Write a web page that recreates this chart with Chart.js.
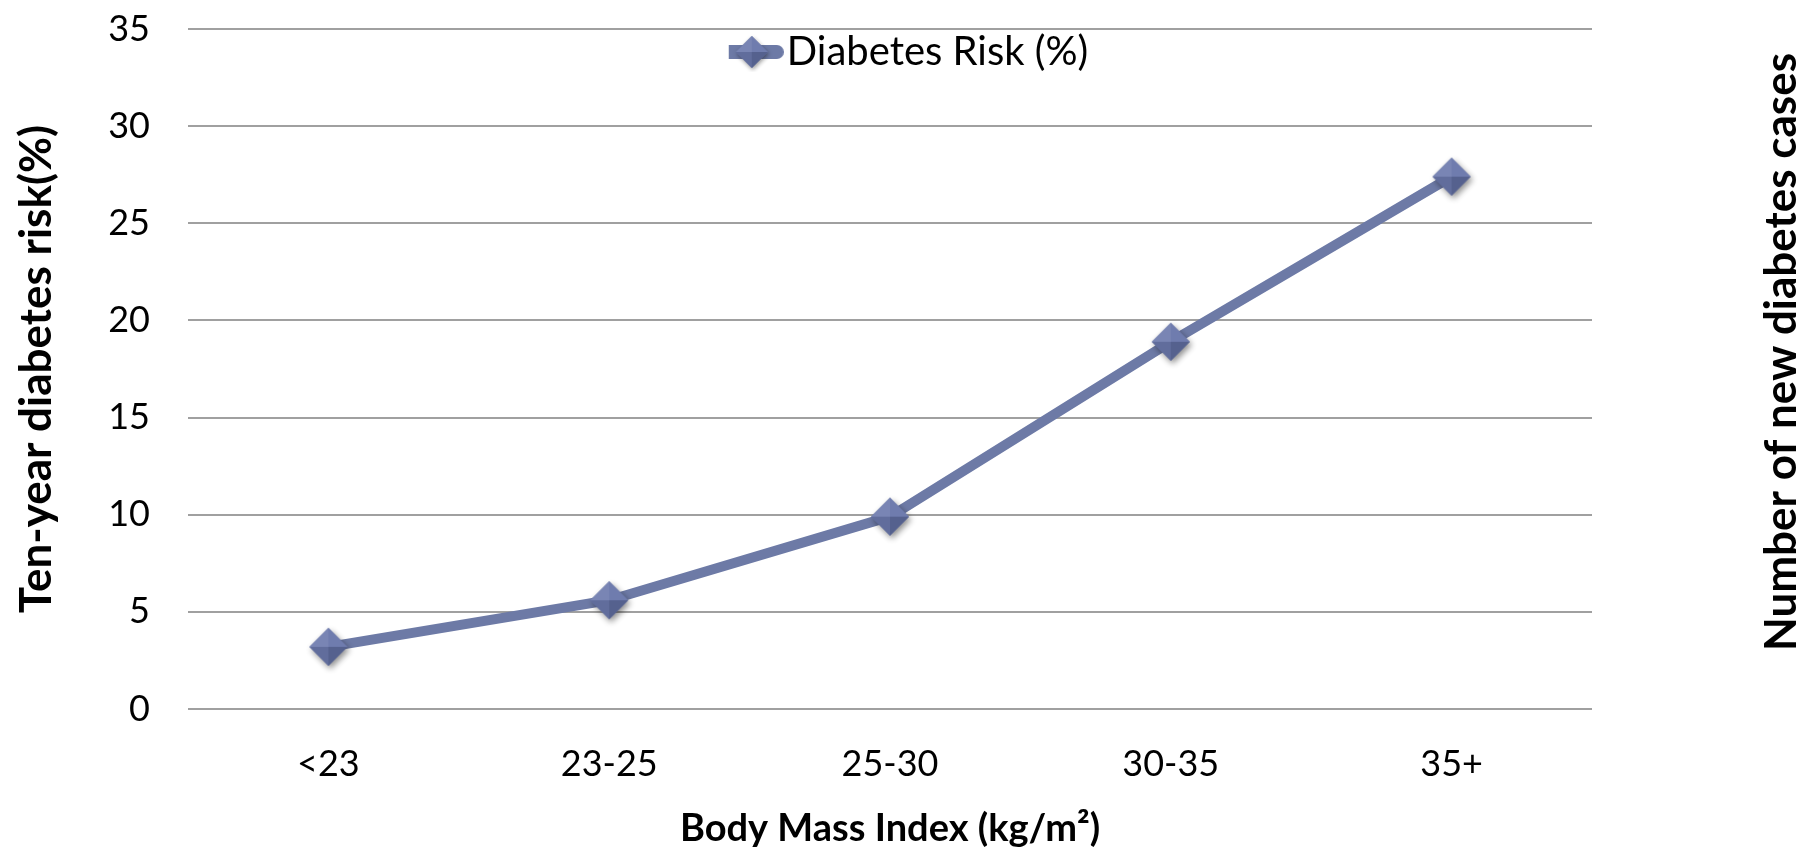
<!DOCTYPE html>
<html><head><meta charset="utf-8">
<script src="https://cdn.jsdelivr.net/npm/chart.js@4/dist/chart.umd.min.js"></script>
<style>html,body{margin:0;padding:0;background:#fff;}#wrap{width:1808px;height:852px;position:relative}</style>
</head><body><div id="wrap"><canvas id="c" width="1808" height="852"></canvas></div>
<script>
const categories = ['<23', '23-25', '25-30', '30-35', '35+'];
const riskValues = [3.2, 5.6, 9.9, 18.9, 27.4];
const yMin = 0, yMax = 35, yStep = 5;
const seriesLabel = 'Diabetes Risk (%)';
const xTitle = 'Body Mass Index (kg/m\u00B2)';
const yTitle = 'Ten-year diabetes risk(%)';
const y2Title = 'Number of new diabetes cases';

const FONT = 'Lato, "Open Sans", sans-serif';
const LINE = '#6d7aa6';

function diamondFacets(g, cx, cy, r){
  const facets = [
    [[cx, cy - r], [cx + r, cy], '#6f7cae'],
    [[cx + r, cy], [cx, cy + r], '#55618e'],
    [[cx, cy + r], [cx - r, cy], '#616d9c'],
    [[cx - r, cy], [cx, cy - r], '#7985b4']
  ];
  facets.forEach(f => {
    g.beginPath(); g.moveTo(cx, cy); g.lineTo(f[0][0], f[0][1]); g.lineTo(f[1][0], f[1][1]); g.closePath();
    g.fillStyle = f[2]; g.fill();
  });
}
function makeDiamond(r){
  const pad = 12, s = 2 * (r + pad);
  const c = document.createElement('canvas'); c.width = s; c.height = s;
  const g = c.getContext('2d'); const cx = s / 2, cy = s / 2;
  g.save(); g.shadowColor = 'rgba(0,0,0,0.45)'; g.shadowBlur = 6; g.shadowOffsetX = 2; g.shadowOffsetY = 3;
  g.beginPath(); g.moveTo(cx, cy - r); g.lineTo(cx + r, cy); g.lineTo(cx, cy + r); g.lineTo(cx - r, cy); g.closePath();
  g.fillStyle = '#6a77a6'; g.fill(); g.restore();
  diamondFacets(g, cx, cy, r);
  return c;
}
function makeLegendMarker(w, h, r){
  const c = document.createElement('canvas'); c.width = w; c.height = h;
  const g = c.getContext('2d');
  g.strokeStyle = LINE; g.lineWidth = 14; g.lineCap = 'round';
  g.beginPath(); g.moveTo(7, h / 2); g.lineTo(w - 7, h / 2); g.stroke();
  g.save(); g.shadowColor = 'rgba(0,0,0,0.4)'; g.shadowBlur = 4; g.shadowOffsetX = 1; g.shadowOffsetY = 2;
  g.beginPath(); g.moveTo(w/2, h/2 - r); g.lineTo(w/2 + r, h/2); g.lineTo(w/2, h/2 + r); g.lineTo(w/2 - r, h/2); g.closePath();
  g.fillStyle = '#6a77a6'; g.fill(); g.restore();
  diamondFacets(g, w / 2, h / 2, r);
  return c;
}

const LEG_FONT = 40, LEG_PAD = 8, LEG_BOX = 30;
// place the library legend inside the top of the plot, centred on the canvas
const legendPlacePlugin = {
  id: 'legendPlace',
  afterLayout(chart){
    const L = chart.legend; if (!L || !L.columnSizes || !L.columnSizes.length) return;
    const a = chart.chartArea;
    const itemW = L.columnSizes[0].width;
    const textW = itemW - LEG_BOX - LEG_FONT / 2;
    const markerHalf = 32;
    const spanLeftFromX = LEG_BOX / 2 - markerHalf;
    const spanW = (LEG_BOX + LEG_FONT / 2 + textW) - spanLeftFromX;
    const x = chart.width / 2 - spanW / 2 - spanLeftFromX;
    const h = L.bottom - L.top;
    L.left = x - LEG_PAD; L.right = L.left + itemW + 2 * LEG_PAD;
    L.top = a.top - 5; L.bottom = L.top + h;
  }
};

const rightTitlePlugin = {
  id: 'rightTitle',
  afterDraw(chart){
    const ctx = chart.ctx; const a = chart.chartArea;
    ctx.save();
    ctx.translate(chart.width - 26, (a.top + a.bottom) / 2 - 17);
    ctx.rotate(-Math.PI / 2);
    ctx.font = 'bold 44px ' + FONT; ctx.fillStyle = '#000';
    ctx.textAlign = 'center'; ctx.textBaseline = 'middle';
    ctx.fillText(y2Title, 0, 0);
    ctx.restore();
  }
};

function make(){
  const pointImg = makeDiamond(19);
  const legendImg = makeLegendMarker(64, 40, 16);
  new Chart(document.getElementById('c'), {
    type: 'line',
    data: {
      labels: categories,
      datasets: [{
        label: seriesLabel,
        data: riskValues,
        borderColor: LINE,
        backgroundColor: LINE,
        borderWidth: 10,
        pointStyle: pointImg,
        pointRadius: 19,
        pointHoverRadius: 19,
        tension: 0,
        fill: false
      }]
    },
    options: {
      responsive: false,
      animation: false,
      devicePixelRatio: 1,
      layout: { padding: { top: 26, right: 216, bottom: 0, left: 0 } },
      plugins: {
        legend: {
          position: 'chartArea',
          align: 'start',
          labels: {
            usePointStyle: true,
            pointStyleWidth: LEG_BOX,
            padding: LEG_PAD,
            color: '#000',
            font: { size: LEG_FONT, family: FONT },
            generateLabels: () => [{ text: seriesLabel, pointStyle: legendImg, fillStyle: LINE, strokeStyle: LINE, lineWidth: 0, hidden: false, datasetIndex: 0 }]
          }
        },
        tooltip: { enabled: false }
      },
      scales: {
        x: {
          offset: true,
          grid: { display: false, drawTicks: false },
          border: { display: false },
          ticks: { color: '#000', font: { size: 36, family: FONT }, padding: 34 },
          title: { display: true, text: xTitle, color: '#000', font: { size: 38, weight: 'bold', family: FONT }, padding: { top: 0, bottom: 0 } },
          afterFit: s => { s.height = 143; s.paddingLeft = 0; s.paddingRight = 0; }
        },
        y: {
          min: yMin, max: yMax,
          grid: { color: '#a0a0a0', lineWidth: 2, drawTicks: false },
          border: { display: false },
          ticks: { stepSize: yStep, color: '#000', font: { size: 36, family: FONT }, padding: 38 },
          title: { display: true, text: yTitle, color: '#000', font: { size: 44, weight: 'bold', family: FONT }, padding: { top: 10, bottom: 0 } },
          afterFit: s => { s.width = 188; s.paddingTop = 0; s.paddingBottom = 0; }
        }
      }
    },
    plugins: [legendPlacePlugin, rightTitlePlugin]
  });
}
Promise.all([document.fonts.load('36px Lato'), document.fonts.load('bold 36px Lato')]).then(make, make);
</script>
</body></html>
